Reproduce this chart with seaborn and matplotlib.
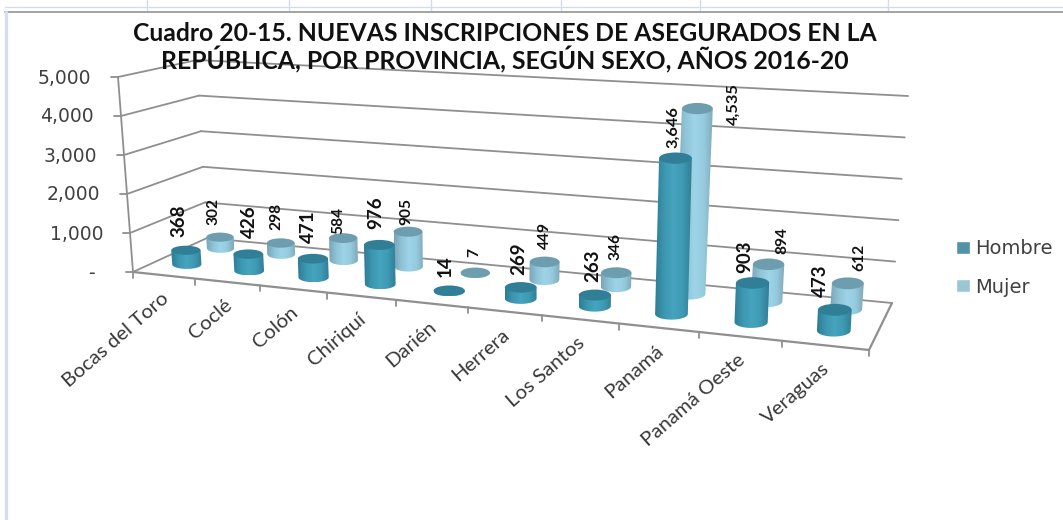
import numpy as np
import pandas as pd
import seaborn as sns
import matplotlib
matplotlib.use('Agg')
import matplotlib.pyplot as plt
from matplotlib.patches import Ellipse, Polygon

provincias = ['Bocas del Toro', 'Coclé', 'Colón', 'Chiriquí', 'Darién', 'Herrera',
              'Los Santos', 'Panamá', 'Panamá Oeste', 'Veraguas']
hombre = [368, 426, 471, 976, 14, 269, 263, 3646, 903, 473]
mujer = [302, 298, 584, 905, 7, 449, 346, 4535, 894, 612]
y_ticks = [0, 1000, 2000, 3000, 4000, 5000]
y_labels = ['-', '1,000', '2,000', '3,000', '4,000', '5,000']
titulo = 'Cuadro 20-15. NUEVAS INSCRIPCIONES DE ASEGURADOS EN LA\nREPÚBLICA, POR PROVINCIA, SEGÚN SEXO, AÑOS 2016-20'

df = pd.DataFrame({
    'Provincia': provincias * 2,
    'Sexo': ['Hombre'] * 10 + ['Mujer'] * 10,
    'Valor': hombre + mujer,
})

sns.set_theme(style='white')
plt.rcParams['font.family'] = ['Lato', 'DejaVu Sans']

fig = plt.figure(figsize=(10.63, 5.2), dpi=100)
ax = fig.add_axes([0, 0, 1, 1])
ax.set_xlim(0, 1063)
ax.set_ylim(520, 0)
ax.axis('off')
ax.autoscale(False)

# seaborn holds the values and the legend, the bars get redrawn as cylinders below
ax_bars = fig.add_axes([0, 0, 1, 1])
sns.barplot(data=df, x='Provincia', y='Valor', hue='Sexo', palette=['#429cb6', '#94cbdd'], ax=ax_bars)
ax_bars.axis('off')
ax_bars.patch.set_visible(False)
sns.move_legend(ax_bars, 'center left', bbox_to_anchor=(0.899, 0.485), frameon=False, title=None,
                prop={'family': 'DejaVu Sans', 'size': 14}, handlelength=0.72, handleheight=0.62,
                labelspacing=1.0, handletextpad=0.3, borderpad=0, borderaxespad=0, labelcolor='#404040')

# corners of the floor in pixels, front left / front right / back right / back left
x0, y0, x1, y1, x2, y2, x3, y3 = 133, 272, 869, 350, 892, 303, 207, 238
dx1, dy1, dx2, dy2 = x1 - x2, y1 - y2, x3 - x2, y3 - y2
sx, sy = x0 - x1 + x2 - x3, y0 - y1 + y2 - y3
det = dx1 * dy2 - dx2 * dy1
g = (sx * dy2 - dx2 * sy) / det
h = (dx1 * sy - sx * dy1) / det
a, b = x1 - x0 + g * x1, x3 - x0 + h * x3
d, e = y1 - y0 + g * y1, y3 - y0 + h * y3

# how a full 5,000 column leans at each corner
up_fl, up_fr, up_br, up_bl = np.array([-15, -195.]), np.array([10, -228.]), np.array([16, -207.]), np.array([-10, -178.])


def project(u, v, val=0):
    w = g * u + h * v + 1
    base = np.array([(a * u + b * v + x0) / w, (d * u + e * v + y0) / w])
    up = (up_fl * (1 - u) + up_fr * u) * (1 - v) + (up_bl * (1 - u) + up_br * u) * v
    return base + up * val / 5000


def line(p, q, color='#8f8f8f', lw=1.3, z=1):
    ax.plot([p[0], q[0]], [p[1], q[1]], color=color, lw=lw, zorder=z, solid_capstyle='round')


# spreadsheet behind the chart
for xv in [147, 289, 431, 561, 700, 888]:
    line((xv, 0), (xv, 11), '#d3dcea', 1.0)
line((5, 7), (1063, 7), '#d3dcea', 1.0)
line((5, 12), (1063, 12), '#9c9c9c', 1.3)
line((6, 12), (6, 520), '#d5deea', 2.4)

# walls and floor
for t, lab in zip(y_ticks, y_labels):
    fl, bl, br = project(0, 0, t), project(0, 1, t), project(1, 1, t)
    line(fl, bl)
    line(bl, br)
    line(fl, fl + np.array([-7, 0]))
    xt = fl[0] - 27 if t > 0 else fl[0] - 38
    ax.text(xt, fl[1] + 1, lab, ha='right', va='center', fontsize=13.5, color='#404040', family='DejaVu Sans')
line(project(0, 0), project(0, 0, 5000))
line(project(0, 0), project(1, 0), lw=1.6)
line(project(1, 0), project(1, 1), lw=1.6)
for i in range(11):
    p = project(i / 10, 0)
    line(p, p + np.array([0, 6]))

for i, prov in enumerate(provincias):
    c = project((i + 0.5) / 10, 0)
    ax.text(c[0] + 2, c[1] + 21, prov, rotation=41, rotation_mode='anchor', ha='right', va='center',
            fontsize=14.7, color='#383838')

ramps = {
    'Hombre': (sns.blend_palette(['#2d7d95', '#3d97b1', '#46a4be', '#3f9ab4', '#317f97'], as_cmap=True), '#307f97'),
    'Mujer': (sns.blend_palette(['#7aa4b6', '#8fc3d6', '#9dd4e8', '#96cbde', '#7fa9ba'], as_cmap=True), '#6f9db0'),
}
depth = {'Hombre': 0.3, 'Mujer': 0.77}
label_dx = {'Hombre': [-7, 1, -4, -4, -4, -2, -2, -2, -8, -14], 'Mujer': [-6, -4, -5, -2, -1, 0, -1, 36, 14, 12]}
label_dy = {'Hombre': [-30, -32, -32, -32, -25, -29, -29, -31, -26, -29], 'Mujer': [-26, -27, -18, -20, -20, -26, -26, -4, -24, -26]}
label_size = {'Hombre': [13.5] * 7 + [11.8] + [13.5] * 2, 'Mujer': [11.2] * 7 + [11.8] + [11.2] * 2}

z = 10
for sexo, container in zip(['Mujer', 'Hombre'], [ax_bars.containers[1], ax_bars.containers[0]]):
    cmap, cap = ramps[sexo]
    for i, bar in enumerate(container):
        bar.set_visible(False)
        val = bar.get_height()
        u = (i + 0.5) / 10
        v = depth[sexo]
        bottom, top = project(u, v), project(u, v, val)
        rx = 14.5 + 2.5 * u - (v - 0.3) * 2
        ry = 4.5 + 1.5 * u
        th = np.linspace(np.pi, 0, 30)
        low = np.column_stack([bottom[0] + rx * np.cos(th), bottom[1] + ry * np.sin(th)])
        outline = np.vstack([[top[0] - rx, top[1]], low, [top[0] + rx, top[1]]])
        body = Polygon(outline, closed=True, fc='none', ec='none', zorder=z)
        ax.add_patch(body)
        xa, xb = outline[:, 0].min(), outline[:, 0].max()
        ya, yb = outline[:, 1].min(), outline[:, 1].max()
        im = ax.imshow(np.linspace(0, 1, 64)[None, :], cmap=cmap, extent=[xa, xb, yb, ya], aspect='auto', zorder=z)
        im.set_clip_path(body)
        ax.add_patch(Ellipse(top, 2 * rx, 2 * ry, fc=cap, ec='none', zorder=z + 0.5))
        ax.text(top[0] + label_dx[sexo][i], top[1] + label_dy[sexo][i], f'{int(val):,}', rotation=90,
                ha='center', va='center', fontsize=label_size[sexo][i], fontweight='bold', color='#111111', zorder=100)
        z += 1

ax.text(505, 48, titulo, ha='center', va='center', fontsize=17.8, fontweight='bold', color='#111111',
        linespacing=1.05, zorder=100)

fig.savefig('out.png', dpi=100)
